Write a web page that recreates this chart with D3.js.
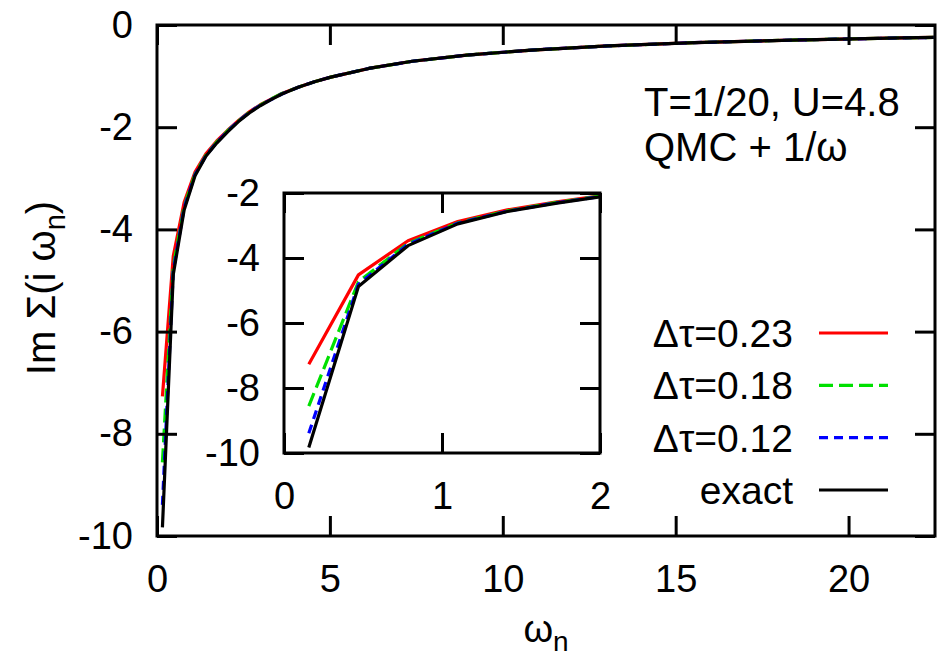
<!DOCTYPE html>
<html>
<head>
<meta charset="utf-8">
<script src="https://cdn.jsdelivr.net/npm/d3@7"></script>
<style>
  body { margin: 0; background: #fff; }
  svg text { font-family: "Liberation Sans", Arial, sans-serif; fill: #000; }
</style>
</head>
<body>
<svg id="chart" width="939" height="657"></svg>
<script>
// Matsubara frequencies (subset)
const omega = [0.157, 0.471, 0.785, 1.100, 1.414, 1.728, 2.042, 2.356, 2.670, 2.985,
               3.299, 3.613, 4.084, 4.555, 5.027, 6.126, 7.383, 8.954, 10.838, 13.037,
               15.551, 18.378, 21.520, 22.462];

const sigma023 = [-7.27, -4.52, -3.47, -2.88, -2.52, -2.27, -2.06, -1.87, -1.70, -1.56,
                  -1.45, -1.34, -1.22, -1.11, -1.02, -0.85, -0.71, -0.59, -0.49, -0.41,
                  -0.345, -0.295, -0.253, -0.243];
const sigma018 = [-8.56, -4.73, -3.55, -2.92, -2.55, -2.29, -2.07, -1.88, -1.71, -1.57,
                  -1.45, -1.34, -1.22, -1.11, -1.02, -0.85, -0.71, -0.59, -0.49, -0.41,
                  -0.345, -0.295, -0.253, -0.243];
const sigma012 = [-9.39, -4.81, -3.58, -2.93, -2.56, -2.30, -2.08, -1.88, -1.71, -1.57,
                  -1.46, -1.35, -1.22, -1.11, -1.02, -0.85, -0.71, -0.59, -0.49, -0.41,
                  -0.345, -0.295, -0.253, -0.243];
const sigmaExact = [-9.83, -4.88, -3.62, -2.95, -2.57, -2.31, -2.09, -1.89, -1.72, -1.58,
                    -1.46, -1.35, -1.22, -1.11, -1.02, -0.85, -0.71, -0.59, -0.49, -0.41,
                    -0.345, -0.295, -0.253, -0.243];

const seriesNames = ["\u0394\u03c4=0.23", "\u0394\u03c4=0.18", "\u0394\u03c4=0.12", "exact"];

const xTicks = [0, 5, 10, 15, 20];
const yTicks = [0, -2, -4, -6, -8, -10];
const insetXTicks = [0, 1, 2];
const insetYTicks = [-2, -4, -6, -8, -10];

const series = [
  { name: seriesNames[0], values: sigma023, color: "#ff0000", dash: null },
  { name: seriesNames[1], values: sigma018, color: "#00e000", dash: "14,6" },
  { name: seriesNames[2], values: sigma012, color: "#0000ff", dash: "9,6" },
  { name: seriesNames[3], values: sigmaExact, color: "#000000", dash: null }
];

const svg = d3.select("#chart");
const fontSize = 38;
const fmt = d => String(d); // plain hyphen minus like gnuplot

const drawPanel = (opts) => {
  const { x, y, xt, yt, clipId, labels } = opts;
  const [x0, x1] = x.range();
  const [y0, y1] = y.range(); // y0 bottom, y1 top
  const tick = 20;

  svg.append("rect")
    .attr("x", x0).attr("y", y1)
    .attr("width", x1 - x0).attr("height", y0 - y1)
    .attr("fill", "#fff");

  svg.append("clipPath").attr("id", clipId)
    .append("rect")
    .attr("x", x0).attr("y", y1)
    .attr("width", x1 - x0).attr("height", y0 - y1);

  const line = d3.line()
    .x((d, i) => x(omega[i]))
    .y(d => y(d));

  const g = svg.append("g").attr("clip-path", `url(#${clipId})`);
  series.forEach(s => {
    g.append("path")
      .datum(s.values)
      .attr("d", line)
      .attr("fill", "none")
      .attr("stroke", s.color)
      .attr("stroke-width", 3.2)
      .attr("stroke-linejoin", "round")
      .attr("stroke-dasharray", s.dash);
  });

  const styleAxis = (sel, showText) => {
    sel.select(".domain").remove();
    sel.selectAll(".tick line").attr("stroke", "#000").attr("stroke-width", 3);
    if (!showText) sel.selectAll(".tick text").remove();
    else sel.selectAll(".tick text").attr("font-size", fontSize).attr("fill", "#000");
  };

  svg.append("g")
    .attr("transform", `translate(0,${y0})`)
    .call(d3.axisBottom(x).tickValues(xt).tickSizeInner(-tick).tickSizeOuter(0)
      .tickPadding(labels.xPad).tickFormat(fmt))
    .call(g => styleAxis(g, true))
    .attr("font-family", null);

  svg.append("g")
    .attr("transform", `translate(0,${y1})`)
    .call(d3.axisTop(x).tickValues(xt).tickSizeInner(-tick).tickSizeOuter(0))
    .call(g => styleAxis(g, false));

  svg.append("g")
    .attr("transform", `translate(${x0},0)`)
    .call(d3.axisLeft(y).tickValues(yt).tickSizeInner(-tick).tickSizeOuter(0)
      .tickPadding(labels.yPad).tickFormat(fmt))
    .call(g => styleAxis(g, true))
    .attr("font-family", null);

  svg.append("g")
    .attr("transform", `translate(${x1},0)`)
    .call(d3.axisRight(y).tickValues(yt).tickSizeInner(-tick).tickSizeOuter(0))
    .call(g => styleAxis(g, false));

  svg.append("rect")
    .attr("x", x0).attr("y", y1)
    .attr("width", x1 - x0).attr("height", y0 - y1)
    .attr("fill", "none")
    .attr("stroke", "#000")
    .attr("stroke-width", 3);
};

// main panel
const xMain = d3.scaleLinear().domain([0, 22.5]).range([157, 935]);
const yMain = d3.scaleLinear().domain([-10, 0]).range([536, 25]);
drawPanel({ x: xMain, y: yMain, xt: xTicks, yt: yTicks, clipId: "clipMain",
            labels: { xPad: 29, yPad: 24 } });

// inset panel
const xInset = d3.scaleLinear().domain([0, 2]).range([284, 600]);
const yInset = d3.scaleLinear().domain([-10, -2]).range([453, 193]);
drawPanel({ x: xInset, y: yInset, xt: insetXTicks, yt: insetYTicks, clipId: "clipInset",
            labels: { xPad: 29, yPad: 24 } });

// axis titles
const yl = svg.append("text")
  .attr("transform", "translate(55,288) rotate(-90)")
  .attr("text-anchor", "middle")
  .attr("font-size", 40);
yl.append("tspan").text("Im \u03a3(i \u03c9");
yl.append("tspan").attr("font-size", 29).attr("dy", 10).text("n");
yl.append("tspan").attr("dy", -10).text(")");

const xl = svg.append("text")
  .attr("x", 546).attr("y", 642)
  .attr("text-anchor", "middle")
  .attr("font-size", 38);
xl.append("tspan").text("\u03c9");
xl.append("tspan").attr("font-size", 28).attr("dy", 9).text("n");

// annotation
svg.append("text").attr("x", 644).attr("y", 116).attr("font-size", 40)
  .text("T=1/20, U=4.8");
svg.append("text").attr("x", 644).attr("y", 161).attr("font-size", 40)
  .text("QMC + 1/\u03c9");

// legend
const legendY = d3.scalePoint().domain(seriesNames).range([333, 490]);
series.forEach(s => {
  const ly = legendY(s.name);
  svg.append("text")
    .attr("x", 793).attr("y", ly)
    .attr("dy", "0.36em")
    .attr("text-anchor", "end")
    .attr("font-size", 39)
    .text(s.name);
  svg.append("line")
    .attr("x1", 819).attr("x2", 888)
    .attr("y1", ly).attr("y2", ly)
    .attr("stroke", s.color)
    .attr("stroke-width", 3.2)
    .attr("stroke-dasharray", s.dash);
});
</script>
</body>
</html>
